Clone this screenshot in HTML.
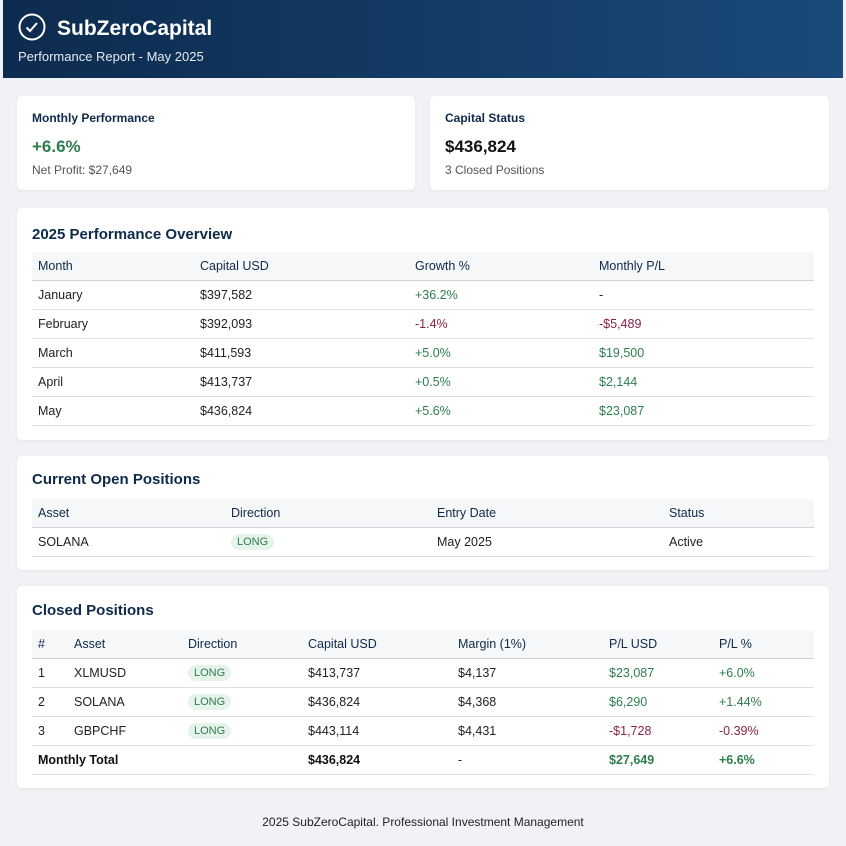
<!DOCTYPE html>
<html><head><meta charset="utf-8"><style>
*{margin:0;padding:0;box-sizing:border-box}
body{width:846px;height:846px;background:#f0f2f5;font-family:"Liberation Sans",sans-serif;color:#222;position:relative;overflow:hidden;font-size:12.5px}
.hdr{position:absolute;left:3px;top:0;width:840px;height:78px;background:linear-gradient(90deg,#0d2b4e,#1a4a7a)}
.hdr h1{position:absolute;left:54px;top:17px;color:#fff;font-size:21px;font-weight:bold}
.hdr p{position:absolute;left:15px;top:49px;color:#e6ecf3;font-size:13px}
.card{position:absolute;background:#fff;border-radius:5px;box-shadow:0 1px 3px rgba(0,0,0,.06)}
.t{position:absolute;color:#0d2a4a;font-weight:bold}
table{position:absolute;left:15px;border-collapse:collapse;table-layout:fixed;width:782px}
td,th{height:29px;padding:0 6px;text-align:left;font-weight:normal;border-bottom:1px solid #dde0e5;white-space:nowrap}
th{background:#f6f7f9;color:#0d2a4a;height:28px;border-bottom:1px solid #cfd4da}
.g{color:#2e7d4f}.r{color:#8a2346}
.b{font-weight:bold;color:#111}
.pill{display:inline-block;background:#e6f3ea;color:#2e7d4f;font-size:11px;padding:2px 6px;border-radius:9px}
</style></head><body>
<div class="hdr">
<svg style="position:absolute;left:15px;top:13px" width="28" height="28" viewBox="0 0 28 28"><circle cx="14" cy="14" r="12.5" fill="none" stroke="#fff" stroke-width="2"/><path d="M8.5 14.5l3.5 3.5 7-8" fill="none" stroke="#fff" stroke-width="2"/></svg>
<h1>SubZeroCapital</h1><p>Performance Report - May 2025</p></div>

<div class="card" style="left:17px;top:96px;width:398px;height:94px">
<div class="t" style="left:15px;top:15px;font-size:12px">Monthly Performance</div>
<div style="position:absolute;left:15px;top:41px;font-size:17px;font-weight:bold;color:#2e7d4f">+6.6%</div>
<div style="position:absolute;left:15px;top:67px;font-size:12px;color:#555">Net Profit: $27,649</div></div>
<div class="card" style="left:430px;top:96px;width:399px;height:94px">
<div class="t" style="left:15px;top:15px;font-size:12px">Capital Status</div>
<div style="position:absolute;left:15px;top:41px;font-size:17px;font-weight:bold;color:#111">$436,824</div>
<div style="position:absolute;left:15px;top:67px;font-size:12px;color:#555">3 Closed Positions</div></div>

<div class="card" style="left:17px;top:208px;width:812px;height:232px">
<div class="t" style="left:15px;top:18px;font-size:15px">2025 Performance Overview</div>
<table style="top:44px"><colgroup><col style="width:162px"><col style="width:215px"><col style="width:184px"><col style="width:221px"></colgroup>
<tr><th>Month</th><th>Capital USD</th><th>Growth %</th><th>Monthly P/L</th></tr>
<tr><td>January</td><td>$397,582</td><td class="g">+36.2%</td><td>-</td></tr>
<tr><td>February</td><td>$392,093</td><td class="r">-1.4%</td><td class="r">-$5,489</td></tr>
<tr><td>March</td><td>$411,593</td><td class="g">+5.0%</td><td class="g">$19,500</td></tr>
<tr><td>April</td><td>$413,737</td><td class="g">+0.5%</td><td class="g">$2,144</td></tr>
<tr><td>May</td><td>$436,824</td><td class="g">+5.6%</td><td class="g">$23,087</td></tr>
</table></div>

<div class="card" style="left:17px;top:456px;width:812px;height:114px">
<div class="t" style="left:15px;top:15px;font-size:15px">Current Open Positions</div>
<table style="top:43px"><colgroup><col style="width:193px"><col style="width:206px"><col style="width:232px"><col style="width:151px"></colgroup>
<tr><th>Asset</th><th>Direction</th><th>Entry Date</th><th>Status</th></tr>
<tr><td>SOLANA</td><td><span class="pill">LONG</span></td><td>May 2025</td><td>Active</td></tr>
</table></div>

<div class="card" style="left:17px;top:586px;width:812px;height:202px">
<div class="t" style="left:15px;top:16px;font-size:15px">Closed Positions</div>
<table style="top:44px"><colgroup><col style="width:36px"><col style="width:114px"><col style="width:120px"><col style="width:150px"><col style="width:151px"><col style="width:110px"><col style="width:101px"></colgroup>
<tr><th>#</th><th>Asset</th><th>Direction</th><th>Capital USD</th><th>Margin (1%)</th><th>P/L USD</th><th>P/L %</th></tr>
<tr><td>1</td><td>XLMUSD</td><td><span class="pill">LONG</span></td><td>$413,737</td><td>$4,137</td><td class="g">$23,087</td><td class="g">+6.0%</td></tr>
<tr><td>2</td><td>SOLANA</td><td><span class="pill">LONG</span></td><td>$436,824</td><td>$4,368</td><td class="g">$6,290</td><td class="g">+1.44%</td></tr>
<tr><td>3</td><td>GBPCHF</td><td><span class="pill">LONG</span></td><td>$443,114</td><td>$4,431</td><td class="r">-$1,728</td><td class="r">-0.39%</td></tr>
<tr><td colspan="3" class="b">Monthly Total</td><td class="b">$436,824</td><td>-</td><td class="b g" style="color:#2e7d4f">$27,649</td><td class="b g" style="color:#2e7d4f">+6.6%</td></tr>
</table></div>

<div style="position:absolute;left:0;width:846px;top:815px;text-align:center;font-size:12px;color:#222">2025 SubZeroCapital. Professional Investment Management</div>
</body></html>
